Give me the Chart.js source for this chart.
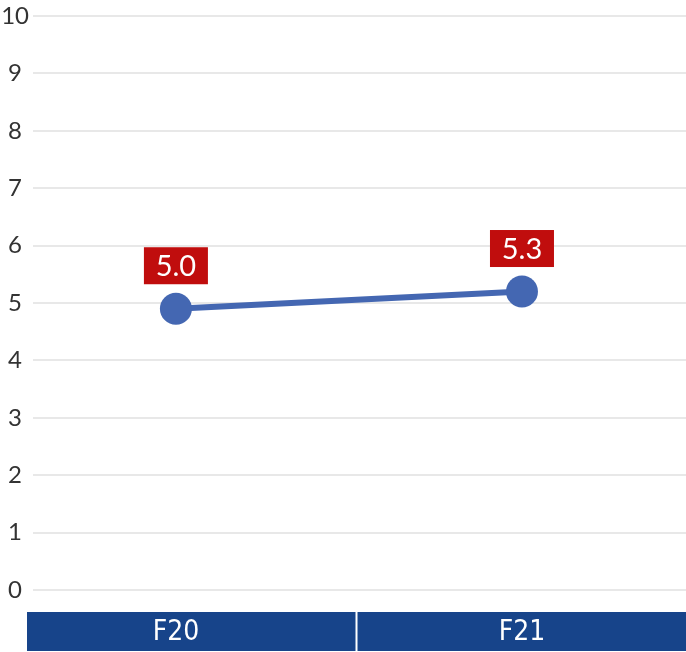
<!DOCTYPE html>
<html>
<head>
<meta charset="utf-8">
<script src="https://cdn.jsdelivr.net/npm/chart.js@4"></script>
<style>
html,body{margin:0;padding:0;background:#fff;overflow:hidden;}
canvas{display:block;}
</style>
</head>
<body>
<canvas id="c" width="686" height="652" style="width:686px;height:652px;"></canvas>
<script>
const categories = ["F20", "F21"];
const values = [4.9, 5.2];
const valueLabels = ["5.0", "5.3"];
const yTicks = [0, 1, 2, 3, 4, 5, 6, 7, 8, 9, 10];

const labelBoxes = {
  id: 'labelBoxes',
  afterDatasetsDraw(chart) {
    const ctx = chart.ctx;
    const meta = chart.getDatasetMeta(0);
    ctx.save();
    meta.data.forEach((pt, i) => {
      const w = 64, h = 37;
      const cx = pt.x, cy = pt.y - 43;
      ctx.fillStyle = '#c00d0d';
      ctx.fillRect(cx - w / 2, cy - h / 2, w, h);
      ctx.fillStyle = '#ffffff';
      ctx.font = '29px Lato, "Open Sans", sans-serif';
      ctx.textAlign = 'center';
      ctx.textBaseline = 'middle';
      ctx.fillText(valueLabels[i], cx, cy + 1);
    });
    ctx.restore();
  }
};

const categoryBands = {
  id: 'categoryBands',
  afterDraw(chart) {
    const ctx = chart.ctx;
    const xs = chart.scales.x;
    const area = chart.chartArea;
    const top = area.bottom + 22, bottom = chart.height - 1;
    const n = categories.length;
    const left = area.left - 6, right = area.right;
    const bandW = (right - left) / n;
    ctx.save();
    categories.forEach((c, i) => {
      const x0 = left + i * bandW;
      const x1 = x0 + bandW;
      ctx.fillStyle = '#17448a';
      ctx.fillRect(x0, top, x1 - x0, bottom - top);
      ctx.fillStyle = '#ffffff';
      ctx.font = '28px "Liberation Sans Narrow", "DejaVu Sans Condensed", sans-serif';
      ctx.textAlign = 'center';
      ctx.textBaseline = 'middle';
      ctx.fillText(c, xs.getPixelForValue(i), (top + bottom) / 2 + 1);
      if (i > 0) {
        ctx.fillStyle = '#ffffff';
        ctx.fillRect(x0 - 1, top, 2, bottom - top);
      }
    });
    ctx.restore();
  }
};

new Chart(document.getElementById('c'), {
  type: 'line',
  data: {
    datasets: [{
      data: values.map((v, i) => ({ x: i, y: v })),
      borderColor: '#4467b2',
      backgroundColor: '#4467b2',
      borderWidth: 6,
      pointRadius: 16,
      pointHoverRadius: 16,
      pointBackgroundColor: '#4467b2',
      pointBorderWidth: 0,
      tension: 0
    }]
  },
  options: {
    responsive: false,
    maintainAspectRatio: false,
    animation: false,
    layout: { autoPadding: false, padding: { top: 16, right: 0, bottom: 62, left: 0 } },
    plugins: { legend: { display: false }, tooltip: { enabled: false } },
    scales: {
      x: {
        type: 'linear',
        min: -0.413,
        max: 1.474,
        display: false
      },
      y: {
        min: 0,
        max: 10,
        afterBuildTicks: (axis) => { axis.ticks = yTicks.map(v => ({ value: v })); },
        afterFit: (axis) => { axis.width = 33; axis.paddingTop = 16; axis.paddingBottom = 0; },
        border: { display: false },
        grid: { color: '#e8e8e8', lineWidth: 2, drawTicks: false },
        ticks: {
          color: '#333333',
          font: { family: 'Lato, "Open Sans", sans-serif', size: 24 },
          padding: 4,
          crossAlign: 'center'
        }
      }
    }
  },
  plugins: [labelBoxes, categoryBands]
});
</script>
</body>
</html>
